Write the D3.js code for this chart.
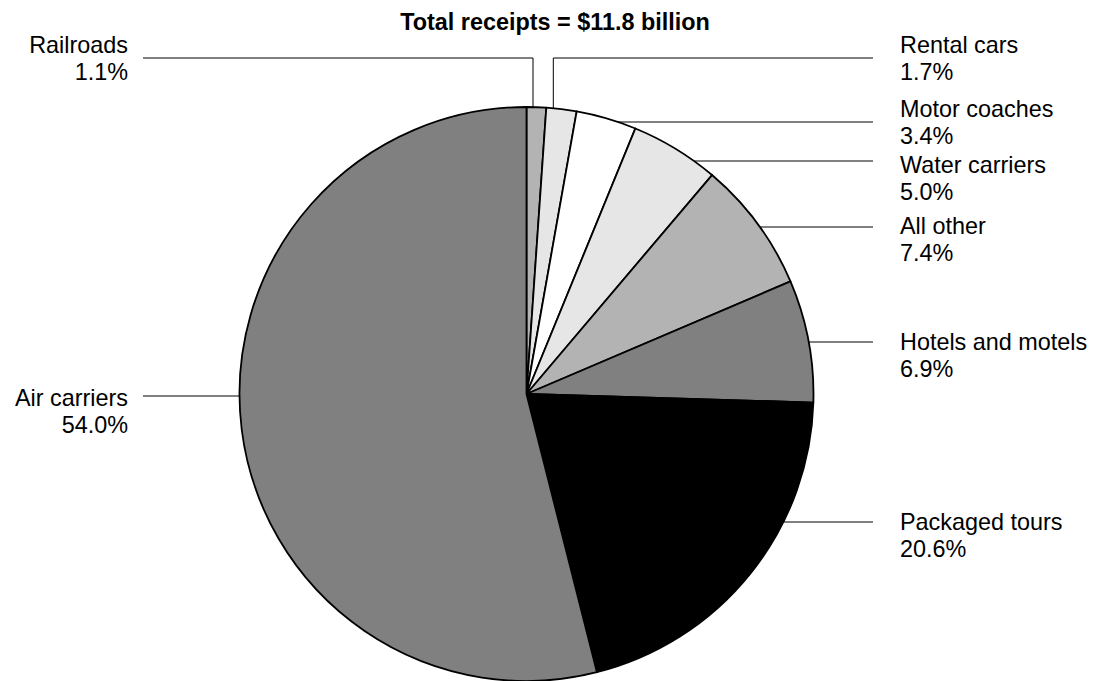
<!DOCTYPE html>
<html>
<head>
<meta charset="utf-8">
<script src="https://cdn.jsdelivr.net/npm/d3@7"></script>
<style>
  html, body { margin: 0; padding: 0; background: #fff; }
  svg { display: block; }
  text { font-family: "Liberation Sans", Arial, sans-serif; fill: #000; }
</style>
</head>
<body>
<svg id="chart" width="1100" height="681"></svg>
<script>
// ---- data ----
const categories = ["Railroads", "Rental cars", "Motor coaches", "Water carriers", "All other", "Hotels and motels", "Packaged tours", "Air carriers"];
const shares = [1.1, 1.7, 3.4, 5.0, 7.4, 6.9, 20.6, 54.0];
const percentLabels = ["1.1%", "1.7%", "3.4%", "5.0%", "7.4%", "6.9%", "20.6%", "54.0%"];
const titleText = "Total receipts = $11.8 billion";

// ---- styles ----
const fills = ["#b3b3b3", "#e6e6e6", "#ffffff", "#e6e6e6", "#b3b3b3", "#808080", "#000000", "#808080"];

// ---- layout ----
const W = 1100, H = 681;
const cx = 526.5, cy = 394, R = 287;
const fontSize = 23.4, lineGap = 27;
const rightLineEnd = 873, rightTextX = 900;
const leftLineEnd = 143, leftTextX = 128;
// per-slice label layout: side, leader y, first text baseline, optional elbow (angle in deg for vertical leg)
const labelLayout = [
  { side: "left",  lineY: 58,  textY: 53,  elbowDeg: 1.3 },
  { side: "right", lineY: 58,  textY: 53,  elbowDeg: 5.36 },
  { side: "right", lineY: 122, textY: 117 },
  { side: "right", lineY: 161, textY: 173 },
  { side: "right", lineY: 227, textY: 234 },
  { side: "right", lineY: 342, textY: 350 },
  { side: "right", lineY: 522, textY: 530 },
  { side: "left",  lineY: 396, textY: 406 }
];

const svg = d3.select("#chart");

// title
svg.append("text")
  .attr("x", 555).attr("y", 30)
  .attr("text-anchor", "middle")
  .style("font-size", fontSize + "px")
  .style("font-weight", "bold")
  .text(titleText);

const pie = d3.pie().sort(null).value(d => d.value).startAngle(0).endAngle(2 * Math.PI);
const arc = d3.arc().innerRadius(0).outerRadius(R);
const data = categories.map((c, i) => ({ name: c, value: shares[i], pct: percentLabels[i], fill: fills[i], layout: labelLayout[i] }));
const arcs = pie(data);

// leader lines (drawn under the pie)
const leaders = svg.append("g").attr("stroke", "#000").attr("stroke-width", 1).attr("fill", "none");
arcs.forEach(a => {
  const L = a.data.layout;
  let pts;
  if (L.elbowDeg !== undefined) {
    const ang = L.elbowDeg * Math.PI / 180;
    const x0 = cx + R * Math.sin(ang);
    const y0 = cy - R * Math.cos(ang);
    const xEnd = L.side === "right" ? rightLineEnd : leftLineEnd;
    pts = [[x0, y0 + 2], [x0, L.lineY], [xEnd, L.lineY]];
  } else {
    const dy = L.lineY - cy;
    const dx = Math.sqrt(R * R - dy * dy);
    const x0 = L.side === "right" ? cx + dx : cx - dx;
    const xEnd = L.side === "right" ? rightLineEnd : leftLineEnd;
    pts = [[x0, L.lineY], [xEnd, L.lineY]];
  }
  leaders.append("path").attr("d", d3.line()(pts));
});

// pie
const g = svg.append("g").attr("transform", `translate(${cx},${cy})`);
g.selectAll("path.slice")
  .data(arcs)
  .join("path")
  .attr("class", "slice")
  .attr("d", arc)
  .attr("fill", d => d.data.fill)
  .attr("stroke", "#000")
  .attr("stroke-width", 1.8)
  .attr("stroke-linejoin", "round");

// labels
const labels = svg.append("g").style("font-size", fontSize + "px");
arcs.forEach(a => {
  const L = a.data.layout;
  const right = L.side === "right";
  const t = labels.append("text")
    .attr("text-anchor", right ? "start" : "end");
  t.append("tspan").attr("x", right ? rightTextX : leftTextX).attr("y", L.textY).text(a.data.name);
  t.append("tspan").attr("x", right ? rightTextX : leftTextX).attr("y", L.textY + lineGap).text(a.data.pct);
});
</script>
</body>
</html>
